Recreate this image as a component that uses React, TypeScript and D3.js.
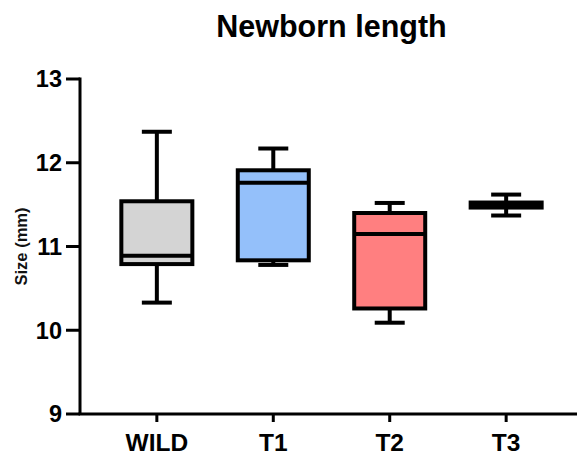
import React from "react";
import * as d3 from "d3";

const categories = ["WILD", "T1", "T2", "T3"];
const minValues = [10.33, 10.78, 10.09, 11.37];
const q1Values = [10.79, 10.835, 10.26, 11.465];
const medianValues = [10.89, 11.76, 11.15, 11.49];
const q3Values = [11.54, 11.91, 11.4, 11.525];
const maxValues = [12.37, 12.17, 11.52, 11.62];
const fills = ["#d4d4d4", "#94c0fa", "#ff7f80", "#000000"];
const yTicks = [9, 10, 11, 12, 13];

const W = 577;
const H = 456;
const FONT = "Arial, 'Liberation Sans', Helvetica, sans-serif";

export default function App() {
  const x = d3.scalePoint<string>().domain(categories).range([80, 583]).padding(0.66);
  const y = d3.scaleLinear().domain([9, 13]).range([414, 79]);
  const boxW = 71;
  const capW = 30;
  const sw = 4;

  return (
    <svg width={W} height={H} style={{ position: "absolute", left: 0, top: 0, background: "#fff" }} fontFamily={FONT}>
      <text x={331.5} y={37} textAnchor="middle" fontSize={30.5} fontWeight="bold" fill="#000">
        Newborn length
      </text>
      <text
        transform={`translate(27,${y(11)}) rotate(-90)`}
        textAnchor="middle"
        fontSize={16.5}
        fontWeight="bold"
        fill="#111"
      >
        Size (mm)
      </text>
      {/* y axis */}
      <line x1={80} x2={80} y1={y(13) - 1.5} y2={y(9)} stroke="#000" strokeWidth={3} />
      {yTicks.map((t) => (
        <g key={t}>
          <line x1={66} x2={80} y1={y(t)} y2={y(t)} stroke="#000" strokeWidth={3} />
          <text x={62} y={y(t)} dy="0.36em" textAnchor="end" fontSize={23.5} fontWeight="bold" fill="#000">
            {t}
          </text>
        </g>
      ))}
      {/* x axis */}
      <line x1={78.5} x2={583} y1={y(9)} y2={y(9)} stroke="#000" strokeWidth={3} />
      {categories.map((c) => (
        <g key={c}>
          <line x1={x(c)} x2={x(c)} y1={y(9)} y2={y(9) + 8} stroke="#000" strokeWidth={3} />
          <text x={x(c)} y={451} textAnchor="middle" fontSize={24.5} fontWeight="bold" fill="#000">
            {c}
          </text>
        </g>
      ))}
      {/* boxes */}
      {categories.map((c, i) => {
        const cx = x(c) as number;
        return (
          <g key={c} stroke="#000" strokeWidth={sw}>
            <line x1={cx} x2={cx} y1={y(maxValues[i])} y2={y(q3Values[i])} />
            <line x1={cx} x2={cx} y1={y(q1Values[i])} y2={y(minValues[i])} />
            <line x1={cx - capW / 2} x2={cx + capW / 2} y1={y(maxValues[i])} y2={y(maxValues[i])} />
            <line x1={cx - capW / 2} x2={cx + capW / 2} y1={y(minValues[i])} y2={y(minValues[i])} />
            <rect
              x={cx - boxW / 2}
              y={y(q3Values[i])}
              width={boxW}
              height={y(q1Values[i]) - y(q3Values[i])}
              fill={fills[i]}
            />
            <line x1={cx - boxW / 2} x2={cx + boxW / 2} y1={y(medianValues[i])} y2={y(medianValues[i])} />
          </g>
        );
      })}
    </svg>
  );
}
